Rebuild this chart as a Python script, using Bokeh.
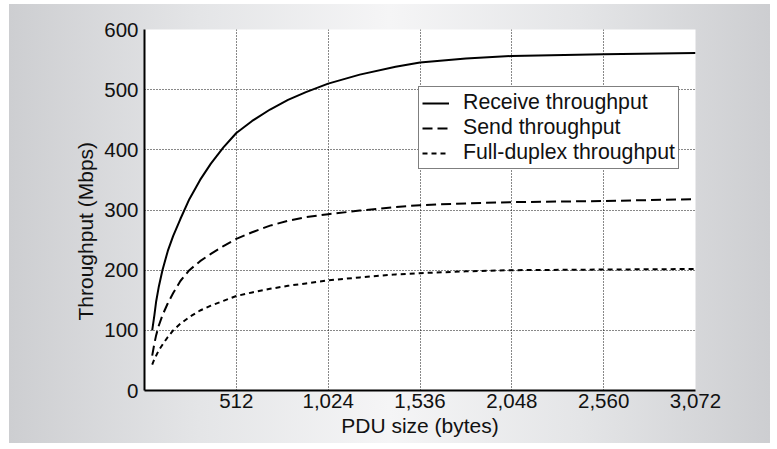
from bokeh.plotting import figure
from bokeh.models import Range1d, FixedTicker, Legend, LegendItem, Title
from bokeh.embed import file_html
from bokeh.resources import INLINE

# ---- data ----
pdu_size = [43, 55, 65, 80, 100, 130, 160, 200, 250, 310, 370, 440, 512, 600,
            700, 800, 900, 1024, 1200, 1400, 1536, 1792, 2048, 2560, 3072]
receive = [100, 125, 148, 173, 200, 232, 257, 285, 318, 350, 377, 404, 428, 448,
           467, 483, 496, 510, 525, 538, 545, 552, 556, 559, 561]
send = [58, 78, 92, 108, 125, 145, 162, 182, 200, 215, 227, 240, 252, 263,
        274, 282, 288, 293, 299, 305, 308, 311, 313, 315, 318]
duplex = [43, 52, 58, 67, 76, 89, 100, 111, 122, 133, 141, 149, 157, 163,
          169, 174, 178, 183, 188, 193, 195, 198, 200, 201, 202]

x_ticks = [512, 1024, 1536, 2048, 2560, 3072]
x_tick_labels = ["512", "1,024", "1,536", "2,048", "2,560", "3,072"]
y_ticks = [0, 100, 200, 300, 400, 500, 600]

series_names = ["Receive throughput", "Send throughput", "Full-duplex throughput"]
x_label = "PDU size (bytes)"
y_label = "Throughput (Mbps)"

FONT = "Liberation Sans"

p = figure(width=761, height=439, output_backend="svg", toolbar_location=None,
           x_range=Range1d(0, 3072), y_range=Range1d(0, 600),
           min_border_left=135, min_border_right=75, min_border_top=25,
           min_border_bottom=53)
p.styles = {
    "background": "linear-gradient(90deg, #cdced1 0%, #e4e5e7 25%, #f5f5f6 50%, #e4e5e7 75%, #cdced1 100%)",
    "margin-left": "9px",
    "margin-top": "4px",
}
p.border_fill_color = None
p.background_fill_color = "white"
p.outline_line_color = None

for ax in (p.xaxis, p.yaxis):
    ax.axis_line_color = "black"
    ax.axis_line_width = 2
    ax.major_tick_line_color = None
    ax.minor_tick_line_color = None
    ax.major_tick_out = 0
    ax.major_tick_in = 0
    ax.major_label_text_font = FONT
    ax.major_label_text_font_size = "20.5px"
    ax.major_label_text_color = "#111111"
    ax.axis_label_text_font = FONT
    ax.axis_label_text_font_size = "21px"
    ax.axis_label_text_font_style = "normal"
    ax.axis_label_text_color = "#111111"

p.xaxis.ticker = FixedTicker(ticks=x_ticks)
p.xaxis.major_label_overrides = dict(zip(x_ticks, x_tick_labels))
p.yaxis.ticker = FixedTicker(ticks=y_ticks)
p.xaxis.axis_label = x_label
p.xaxis.major_label_standoff = 3
p.xaxis.axis_label_standoff = 3
p.yaxis.major_label_standoff = 6

ytitle = Title(text=y_label, align="left", offset=70, standoff=10,
               text_font=FONT, text_font_size="21px", text_font_style="normal",
               text_color="#111111")
p.add_layout(ytitle, "left")

p.xgrid.ticker = FixedTicker(ticks=x_ticks)
p.ygrid.ticker = FixedTicker(ticks=y_ticks)
for g in (p.xgrid, p.ygrid):
    g.grid_line_color = "#111111"
    g.grid_line_dash = "1 2"
    g.grid_line_width = 1

r1 = p.line(pdu_size, receive, line_color="black", line_width=2)
r2 = p.line(pdu_size, send, line_color="black", line_width=2, line_dash="10 5")
r3 = p.line(pdu_size, duplex, line_color="black", line_width=2, line_dash="5 4")

legend = Legend(items=[LegendItem(label=series_names[0], renderers=[r1]),
                       LegendItem(label=series_names[1], renderers=[r2]),
                       LegendItem(label=series_names[2], renderers=[r3])],
                location=(274, 221))
legend.label_text_font = FONT
legend.label_text_font_size = "21.3px"
legend.label_text_color = "#111111"
legend.glyph_width = 27
legend.glyph_height = 18
legend.label_height = 18
legend.label_standoff = 14
legend.padding = 3
legend.spacing = -1
legend.margin = 0
legend.border_line_color = "black"
legend.border_line_width = 1
legend.background_fill_color = "white"
legend.background_fill_alpha = 1
p.add_layout(legend)

open("out.html", "w").write(file_html(p, INLINE))
